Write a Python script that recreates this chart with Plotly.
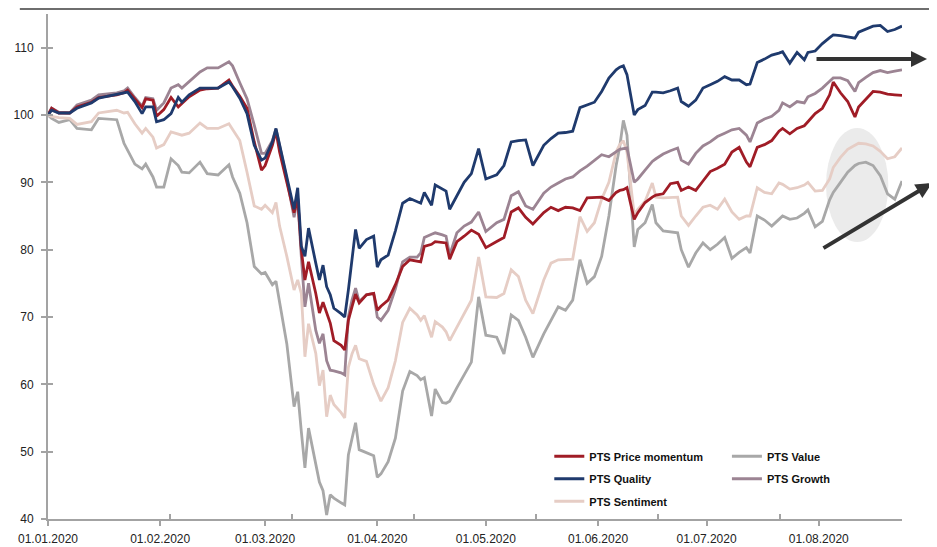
import plotly.graph_objects as go

dates = [
    "2020-01-01", "2020-01-02", "2020-01-04", "2020-01-07", "2020-01-09", "2020-01-13", "2020-01-15", "2020-01-20", "2020-01-22", "2020-01-23",
    "2020-01-25", "2020-01-27", "2020-01-28", "2020-01-30", "2020-01-31", "2020-02-02", "2020-02-04", "2020-02-06", "2020-02-07", "2020-02-09",
    "2020-02-12", "2020-02-14", "2020-02-17", "2020-02-20", "2020-02-21", "2020-02-23", "2020-02-25", "2020-02-27", "2020-02-29", "2020-03-01",
    "2020-03-03", "2020-03-04", "2020-03-05", "2020-03-07", "2020-03-09", "2020-03-10", "2020-03-11", "2020-03-12", "2020-03-13", "2020-03-15",
    "2020-03-16", "2020-03-17", "2020-03-18", "2020-03-19", "2020-03-20", "2020-03-22", "2020-03-23", "2020-03-24", "2020-03-25", "2020-03-26",
    "2020-03-27", "2020-03-29", "2020-03-31", "2020-04-01", "2020-04-02", "2020-04-04", "2020-04-06", "2020-04-08", "2020-04-10", "2020-04-12",
    "2020-04-13", "2020-04-14", "2020-04-16", "2020-04-17", "2020-04-19", "2020-04-20", "2020-04-21", "2020-04-23", "2020-04-25", "2020-04-27",
    "2020-04-29", "2020-05-01", "2020-05-04", "2020-05-06", "2020-05-08", "2020-05-10", "2020-05-12", "2020-05-14", "2020-05-17", "2020-05-19",
    "2020-05-21", "2020-05-23", "2020-05-25", "2020-05-27", "2020-05-29", "2020-05-31", "2020-06-02", "2020-06-04", "2020-06-06", "2020-06-07",
    "2020-06-08", "2020-06-09", "2020-06-11", "2020-06-12", "2020-06-14", "2020-06-16", "2020-06-17", "2020-06-19", "2020-06-21", "2020-06-23",
    "2020-06-24", "2020-06-26", "2020-06-28", "2020-06-30", "2020-07-02", "2020-07-04", "2020-07-06", "2020-07-08", "2020-07-10", "2020-07-12",
    "2020-07-13", "2020-07-15", "2020-07-17", "2020-07-19", "2020-07-21", "2020-07-22", "2020-07-24", "2020-07-26", "2020-07-28", "2020-07-29",
    "2020-07-31", "2020-08-02", "2020-08-04", "2020-08-05", "2020-08-07", "2020-08-09", "2020-08-11", "2020-08-12", "2020-08-14", "2020-08-16",
    "2020-08-18", "2020-08-20", "2020-08-22", "2020-08-24",
]

price_momentum = [
    100, 101, 100.3, 100.3, 101.2, 101.9, 102.6, 103, 103.3, 103.7,
    102.4, 101.1, 102.4, 102.2, 99.8, 100.8, 102.6, 101.2, 101.7, 102.7,
    103.7, 103.9, 104, 105.2, 104.3, 102.8, 101, 96, 91.8, 92.5,
    95.5, 97.6, 94.5, 90, 85.5, 87.6, 80, 75.5, 78.2, 73.5,
    70.6, 72.2, 70.5, 69.1, 66.5, 65.8, 65.1, 69.5, 71.5, 73.4,
    72.1, 73.3, 73.5, 71, 71.6, 72.5, 74.8, 77.5, 78.5, 78.3,
    78.2, 80.5, 80.8, 81.2, 81.1, 81, 78.6, 81.2, 82, 82.9,
    82.3, 80.3, 81.2, 81.8, 85.6, 86.2, 84.8, 83.8, 85.5, 86.3,
    85.8, 86.3, 86.2, 85.8, 87.7, 87.8, 87.8, 87.3, 88.5, 88.8,
    88.9, 89.2, 84.5, 85.5, 87, 87.8, 88.1, 88.3, 89.8, 90,
    88.8, 89.3, 88.8, 90.2, 91.6, 92.1, 92.7, 94.5, 95.2, 93,
    92.3, 95.2, 95.6, 96.2, 97.6, 98, 97.2, 98, 98.4, 99,
    100.2, 101, 103, 104.9, 103.3, 102, 99.7, 101.2, 102.3, 103.5,
    103.4, 103.1, 103, 102.9,
]

quality = [
    100, 100.7, 100.3, 100.3, 101, 101.8, 102.5, 103, 103.2, 103.4,
    102.0, 100.2, 101.2, 101.2, 99.0, 99.3, 100.2, 102.6, 101.9, 103,
    104, 104, 104, 104.9, 104.2, 102.5, 100.2, 95.5, 93.3, 93.6,
    96, 98, 95.5, 90.5, 86, 89.2, 80.5, 79, 83.2, 78,
    75.5, 77.7, 74.5, 73.3, 71.3, 70.5, 70, 74, 78.5, 83,
    80.2, 81.5, 82, 77.4, 78.5, 79.2, 82.8, 86.9, 87.6, 87.2,
    86.9, 88.5, 86.6, 89.6, 89, 88.7, 86, 88.1, 90, 91.3,
    95, 90.5, 91.1, 92.5, 96, 96.2, 96.3, 92.5, 95.5, 96.5,
    97.3, 97.4, 97.6, 101.1, 101.5, 101.9, 103.5, 105.5, 106.7, 107.1,
    107.3, 106, 100, 100.8, 101.4, 103.4, 103.4, 103.3, 103.6, 104,
    102, 101.3, 102.2, 104, 104.5, 105, 105.7, 105.2, 105.2, 104.5,
    104.6, 107.8, 108.3, 108.9, 109.2, 109.4, 107.7, 109.3, 108.2, 109.3,
    109.5, 110.6, 111.5, 111.9, 111.8, 111.6, 111.4, 112.3, 112.7, 113.2,
    113.3, 112.4, 112.7, 113.2,
]

sentiment = [
    100, 99.8, 99.6, 99.5, 98.6, 99, 100.3, 100.7, 100.3, 100.4,
    98.7, 97.3, 98, 96.7, 95.1, 95.6, 97.5, 97.2, 97, 97.3,
    98.8, 98, 98, 98.7, 97.9, 96.2, 91.5, 86.5, 86, 86.6,
    85.5, 87, 83.5, 79, 74, 75.5, 73.5, 64.1, 69, 64.6,
    59.8, 62.1, 55.2, 58.4, 57, 55.8, 55, 62.5, 64.5, 65.8,
    63.8, 63.4, 60, 58.7, 57.5, 59.5, 63.5, 69.2, 71.3, 70.3,
    69.5, 70.2, 67, 69.3, 68.5, 67.8, 66.5, 68.5, 70.5, 72.5,
    78.9, 73, 72.9, 73.5, 77, 76, 72.5, 70.5, 75.5, 78,
    78.5, 78.6, 78.6, 84.9, 82.7, 84, 87.5, 90, 94.5, 95.6,
    96.2, 94.5, 85.2, 86, 87.2, 89.9, 87.8, 87.7, 87.7, 87.8,
    85, 83.6, 85, 86.3, 86.6, 86, 87.5, 85.6, 84.5, 85,
    85, 89.2, 88.5, 88.3, 89.9, 89.7, 89, 89.2, 89.6, 90,
    88.7, 88.8, 90.5, 92.2, 93.7, 94.9, 95.5, 95.8, 95.7, 95.4,
    94.6, 93.5, 93.8, 95.1,
]

value = [
    100, 99.5, 98.9, 99.3, 98, 97.8, 99.5, 99.3, 95.8, 94.8,
    92.7, 92, 92.7, 90.8, 89.3, 89.3, 93.5, 92.5, 91.5, 91.4,
    93, 91.3, 91.1, 92.6, 90.8, 88.4, 84, 77.5, 76.4, 76.6,
    74.8, 75.3, 72, 66, 56.7, 58.9, 53, 47.6, 53.5, 48,
    45.5, 44.2, 40.6, 43.6, 43.1, 42.4, 42.1, 49.5, 52, 54.3,
    50.3, 49.8, 49.4, 46.2, 46.7, 48.5, 52, 59, 61.9, 61.3,
    60.7, 61, 55.3, 59.3, 57.3, 57.2, 57.5, 59.5, 61.5, 63.3,
    73, 67.3, 67, 64.5, 70.3, 69.5, 67, 64, 67.5, 69.6,
    71.5, 71, 72.5, 78.5, 75, 76, 79, 85, 92.5, 95.3,
    99.2, 97, 80.4, 83, 84, 86.7, 84, 82.8, 82.6, 82.5,
    80, 77.4, 79.5, 81, 80, 80.8, 81.8, 78.7, 79.6, 80.3,
    79.5, 85, 84.4, 83.5, 84.5, 85, 84.5, 84.7, 85.4, 85.9,
    83.4, 84.2, 87.4, 88.5, 90, 91.5, 92.5, 92.8, 93, 92.5,
    91, 88.3, 87.5, 90.2,
]

growth = [
    100, 101, 100.4, 100.3, 101.5, 102.2, 103, 103.3, 103.6, 104,
    102.6, 101.3, 102.6, 102.4, 100.7, 101.8, 104, 104.5, 104, 105,
    106.4, 107, 107, 107.9, 107.3, 104.8, 102.4, 98.5, 94.3, 94.3,
    96.2, 97.9, 95.5, 90.5, 84.8, 87.7, 79, 71.5, 75, 68,
    66.1, 67.5, 63.5, 62.1, 62, 61.7, 61.4, 70, 72.5, 74.3,
    72.3, 73.3, 73.5, 70, 69.5, 71, 74.2, 78.2, 78.9, 78.9,
    79.5, 81.8, 82.3, 82.5, 82.2, 82, 79.2, 82.5, 83.5, 84.1,
    85.6, 82.7, 84, 84.5, 88, 88.6, 86.5, 86, 88.4, 89.3,
    89.9, 90.5, 90.8, 91.7, 92.4, 93.2, 94.1, 93.8, 94.6, 94.9,
    95, 95.1, 90, 90.5, 91.8, 93.1, 93.5, 94.2, 94.7, 95.1,
    93.3, 92.7, 94.3, 95.4, 96, 96.8, 97.3, 97.8, 98, 97,
    96, 98.8, 99.4, 99.8, 100.7, 101.8, 101.2, 102, 101.8, 102.7,
    103.2, 104, 105, 105.5, 105.5, 105.1, 103.5, 104.8, 105.6, 106.3,
    106.6, 106.3, 106.5, 106.7,
]

series_names = ["PTS Value", "PTS Sentiment", "PTS Growth", "PTS Price momentum", "PTS Quality"]
series_values = [value, sentiment, growth, price_momentum, quality]
series_colors = ["#a8a8a8", "#e6cdc5", "#9c8493", "#a01c26", "#1f3a6d"]
series_legend = ["legend2", "legend", "legend2", "legend", "legend"]
series_rank = [1, 3, 2, 1, 2]

y_ticks = [40, 50, 60, 70, 80, 90, 100, 110]
x_range = ["2020-01-01", "2020-08-24"]
y_range = [40, 115]

fig = go.Figure()
for name, vals, col, lg, rk in zip(series_names, series_values, series_colors, series_legend, series_rank):
    fig.add_trace(go.Scatter(
        x=dates, y=vals, mode="lines", name=name,
        line=dict(color=col, width=2.8),
        legend=lg, legendrank=rk, legendgroup=name,
    ))
# empty trace on the overlay axes used for the inner half of the crossing ticks
fig.add_trace(go.Scatter(x=[], y=[], xaxis="x2", yaxis="y2", showlegend=False, hoverinfo="skip"))

legend_font = dict(family="Liberation Sans, Arial, sans-serif", size=11, color="#111111", weight="bold")
axis_col = "#a3a3a3"

fig.update_layout(
    width=929, height=539,
    margin=dict(l=40, r=35, t=6, b=28, autoexpand=False),
    paper_bgcolor="white", plot_bgcolor="white",
    font=dict(family="Liberation Sans, Arial, sans-serif", size=12, color="#222222"),
    showlegend=True,
    legend=dict(x=0.587, y=0.153, xanchor="left", yanchor="top", bgcolor="rgba(0,0,0,0)",
                font=legend_font, tracegroupgap=3.5, itemwidth=30),
    legend2=dict(x=0.795, y=0.153, xanchor="left", yanchor="top", bgcolor="rgba(0,0,0,0)",
                 font=legend_font, tracegroupgap=3.5, itemwidth=30),
    xaxis=dict(
        range=x_range, automargin=False,
        tickmode="linear", tick0="2020-01-01", dtick="M1", tickformat="%d.%m.%Y",
        showgrid=False, zeroline=False,
        showline=True, linecolor=axis_col, linewidth=2,
        ticks="outside", ticklen=5, tickwidth=2, tickcolor=axis_col,
        ticklabelstandoff=3,
        tickfont=dict(size=12, color="#222222"),
    ),
    yaxis=dict(
        range=y_range, automargin=False, tickmode="array", tickvals=y_ticks,
        showgrid=False, zeroline=False,
        showline=True, linecolor=axis_col, linewidth=2,
        ticks="outside", ticklen=5, tickwidth=2, tickcolor=axis_col,
        ticklabelstandoff=5,
        tickfont=dict(size=12, color="#222222"),
    ),
    xaxis2=dict(
        range=x_range, overlaying="x", anchor="y", side="bottom", automargin=False,
        tickmode="linear", tick0="2020-01-01", dtick="M1",
        showticklabels=False, showgrid=False, zeroline=False, showline=False,
        ticks="inside", ticklen=5, tickwidth=2, tickcolor=axis_col,
    ),
    yaxis2=dict(
        range=y_range, overlaying="y", anchor="x", side="left", automargin=False,
        tickmode="array", tickvals=y_ticks,
        showticklabels=False, showgrid=False, zeroline=False, showline=False,
        ticks="inside", ticklen=5, tickwidth=2, tickcolor=axis_col,
    ),
    hovermode=False,
)

# top frame line
fig.add_shape(type="line", xref="paper", yref="paper", x0=-0.033, x1=1.045, y0=1.0099, y1=1.0099,
              line=dict(color="#6e6e6e", width=2))
# highlight ellipse
fig.add_shape(type="circle", xref="paper", yref="paper", x0=0.911, x1=0.984, y0=0.5485, y1=0.7743,
              fillcolor="#ebebeb", line=dict(width=0), layer="below")
# arrows
fig.add_annotation(xref="paper", yref="paper", x=1.0293, y=0.9109, ax=-112, ay=0, text="",
                   showarrow=True, arrowhead=2, arrowsize=0.8, arrowwidth=4, arrowcolor="#333333")
fig.add_annotation(xref="paper", yref="paper", x=1.0351, y=0.6653, ax=-110, ay=66, text="",
                   showarrow=True, arrowhead=2, arrowsize=0.8, arrowwidth=4, arrowcolor="#333333")

fig.write_html("out.html")
